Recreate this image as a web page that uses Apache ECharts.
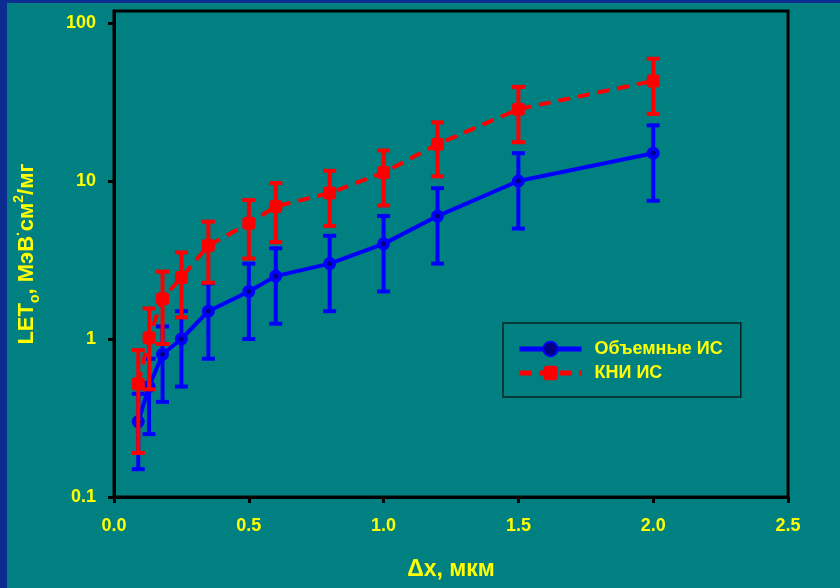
<!DOCTYPE html>
<html>
<head>
<meta charset="utf-8">
<script src="https://cdn.jsdelivr.net/npm/echarts@6/dist/echarts.min.js"></script>
<style>
html,body{margin:0;padding:0;background:#008080;}
#wrap{position:relative;width:840px;height:588px;overflow:hidden;}
#chart{position:absolute;left:0;top:0;width:840px;height:588px;}
#stripL{position:absolute;left:0;top:0;width:7px;height:588px;background:#0b2d92;}
#stripT{position:absolute;left:0;top:0;width:840px;height:3px;background:#0b2d92;}
</style>
</head>
<body>
<div id="wrap"><div id="chart"></div><div id="stripL"></div><div id="stripT"></div></div>
<script>
// Data
const dxValues = [0.09, 0.13, 0.18, 0.25, 0.35, 0.5, 0.6, 0.8, 1.0, 1.2, 1.5, 2.0];
const bulkName = 'Объемные ИС';
const bulkLET = [0.3, 0.5, 0.8, 1.0, 1.5, 2.0, 2.5, 3.0, 4.0, 6.0, 10, 15];
const bulkErr = [0.15, 0.25, 0.4, 0.5, 0.75, 1.0, 1.25, 1.5, 2.0, 3.0, 5.0, 7.5];
const soiName = 'КНИ ИС';
const soiLET = [0.52, 1.02, 1.8, 2.45, 3.9, 5.4, 6.9, 8.4, 11.3, 17.1, 28.5, 43];
const soiErr = [0.33, 0.54, 0.87, 1.08, 1.63, 2.17, 2.8, 3.2, 4.3, 6.4, 10.9, 16.4];
const yTickValues = [0.1, 1, 10, 100];
const xTickValues = [0, 0.5, 1.0, 1.5, 2.0, 2.5];

const FONT = '"Liberation Sans", Arial, sans-serif';
const YEL = '#ffff00';

function pairs(xs, ys) { return xs.map((x, i) => [x, ys[i]]); }
function errData(xs, ys, es) { return xs.map((x, i) => [x, ys[i] - es[i], ys[i] + es[i]]); }

function errRender(color) {
  return function (params, api) {
    const x = api.value(0);
    const lo = api.coord([x, api.value(1)]);
    const hi = api.coord([x, api.value(2)]);
    const hw = 6.5;
    const st = { stroke: color, lineWidth: 4 };
    return {
      type: 'group',
      children: [
        { type: 'line', shape: { x1: lo[0], y1: lo[1], x2: hi[0], y2: hi[1] }, style: st },
        { type: 'line', shape: { x1: lo[0] - hw, y1: lo[1], x2: lo[0] + hw, y2: lo[1] }, style: st },
        { type: 'line', shape: { x1: hi[0] - hw, y1: hi[1], x2: hi[0] + hw, y2: hi[1] }, style: st }
      ]
    };
  };
}

const chart = echarts.init(document.getElementById('chart'), null, { renderer: 'canvas' });
chart.setOption({
  backgroundColor: '#008080',
  animation: false,
  textStyle: { fontFamily: FONT },
  grid: {
    left: 114, right: 52, top: 11, bottom: 91,
    show: true, borderColor: '#000', borderWidth: 3, backgroundColor: 'transparent'
  },
  legend: {
    orient: 'vertical',
    left: 503, top: 323,
    padding: [17, 18, 15, 14],
    itemWidth: 62, itemHeight: 18, itemGap: 6,
    borderColor: '#0a2222', borderWidth: 1.5,
    lineStyle: { width: 5 },
    data: [bulkName, soiName],
    textStyle: { color: YEL, fontSize: 18, fontWeight: 'bold', fontFamily: FONT, padding: [0, 0, 0, 8] }
  },
  xAxis: {
    type: 'value', min: 0, max: 2.5, interval: 0.5,
    name: 'Δx, мкм', nameLocation: 'middle', nameGap: 61,
    nameTextStyle: { color: YEL, fontSize: 23, fontWeight: 'bold', fontFamily: FONT },
    axisLine: { show: true, onZero: false, lineStyle: { color: '#000', width: 3 } },
    axisTick: { show: true, inside: false, length: 6, lineStyle: { color: '#000', width: 3 } },
    axisLabel: { color: YEL, fontSize: 18, fontWeight: 'bold', fontFamily: FONT, margin: 20,
      formatter: v => (+v).toFixed(1) },
    splitLine: { show: false }
  },
  yAxis: {
    type: 'log', logBase: 10, min: 0.1, max: 119.1,
    name: '{a|LET}{s|o}{a|, МэВ}{p|·}{a|см}{p|2}{a|/мг}',
    nameLocation: 'middle', nameGap: 72, nameRotate: 90,
    nameTextStyle: {
      color: YEL, fontFamily: FONT, fontWeight: 'bold',
      rich: {
        a: { color: YEL, fontSize: 22, fontWeight: 'bold', fontFamily: FONT, lineHeight: 30, verticalAlign: 'middle' },
        s: { color: YEL, fontSize: 14, fontWeight: 'bold', fontFamily: FONT, lineHeight: 16, verticalAlign: 'bottom' },
        p: { color: YEL, fontSize: 14, fontWeight: 'bold', fontFamily: FONT, lineHeight: 16, verticalAlign: 'top' }
      }
    },
    axisLine: { show: true, lineStyle: { color: '#000', width: 3 } },
    axisTick: { show: true, inside: false, length: 6, lineStyle: { color: '#000', width: 3 }, customValues: yTickValues },
    axisLabel: { color: YEL, fontSize: 18, fontWeight: 'bold', fontFamily: FONT, margin: 18, customValues: yTickValues,
      formatter: v => String(+v) },
    splitLine: { show: false }
  },
  series: [
    {
      name: bulkName + ' err', type: 'custom', z: 2, silent: true,
      renderItem: errRender('#0000ff'),
      encode: { x: 0, y: [1, 2] },
      data: errData(dxValues, bulkLET, bulkErr)
    },
    {
      name: bulkName, type: 'line', z: 3,
      data: pairs(dxValues, bulkLET),
      lineStyle: { color: '#0000ff', width: 4 },
      symbol: 'circle', symbolSize: 9,
      itemStyle: { color: '#000080', borderColor: '#0000ff', borderWidth: 4 }
    },
    {
      name: soiName + ' err', type: 'custom', z: 4, silent: true,
      renderItem: errRender('#ff0000'),
      encode: { x: 0, y: [1, 2] },
      data: errData(dxValues, soiLET, soiErr)
    },
    {
      name: soiName, type: 'line', z: 5,
      data: pairs(dxValues, soiLET),
      lineStyle: { color: '#ff0000', width: 4, type: [12, 8] },
      symbol: 'roundRect', symbolSize: 13,
      itemStyle: { color: '#ff0000' }
    }
  ]
});
</script>
</body>
</html>
